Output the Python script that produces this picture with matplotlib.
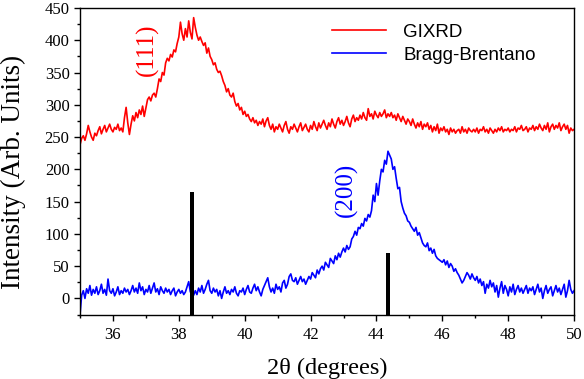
import matplotlib
matplotlib.use("Agg")
import matplotlib.pyplot as plt
from matplotlib.ticker import MultipleLocator
import numpy as np

# 2-theta grid (0.05 deg step, 35..50)
two_theta = np.linspace(35, 50, 301)

# GIXRD intensity
gixrd = [
    238, 248, 252, 245, 255, 268, 258, 250, 245, 256,
    252, 260, 266, 255, 262, 268, 258, 264, 270, 262,
    258, 265, 262, 270, 260, 264, 258, 280, 296, 272,
    254, 270, 283, 275, 288, 280, 292, 285, 298, 282,
    295, 308, 312, 306, 315, 318, 312, 325, 340, 336,
    350, 346, 365, 372, 368, 378, 374, 385, 382, 395,
    405, 428, 410, 400, 418, 405, 430, 412, 402, 435,
    420, 408, 400, 405, 398, 392, 396, 380, 388, 375,
    370, 362, 365, 355, 350, 352, 345, 336, 330, 320,
    325, 315, 312, 318, 305, 298, 302, 292, 296, 285,
    290, 282, 285, 278, 274, 280, 272, 276, 268, 274,
    270, 278, 266, 275, 280, 268, 262, 270, 258, 266,
    262, 270, 264, 258, 268, 274, 262, 256, 266, 262,
    270, 264, 258, 266, 272, 260, 265, 270, 262, 258,
    268, 262, 274, 266, 260, 272, 264, 270, 276, 268,
    262, 272, 266, 278, 270, 264, 274, 280, 270, 276,
    268, 274, 282, 272, 266, 278, 284, 274, 280, 276,
    284, 278, 288, 280, 276, 294, 282, 286, 278, 290,
    284, 280, 288, 282, 286, 292, 280, 286, 282, 288,
    280, 284, 276, 286, 280, 274, 282, 276, 270, 278,
    274, 268, 278, 270, 264, 272, 266, 274, 262, 270,
    266, 272, 262, 268, 258, 266, 260, 270, 256, 264,
    260, 266, 258, 262, 254, 264, 258, 262, 256, 260,
    262, 256, 266, 258, 262, 256, 264, 260, 258, 262,
    258, 264, 256, 262, 260, 266, 258, 262, 256, 264,
    260, 256, 262, 258, 264, 260, 266, 258, 262, 260,
    264, 258, 262, 260, 266, 258, 264, 262, 268, 260,
    262, 266, 258, 264, 262, 268, 260, 266, 262, 270,
    264, 260, 268, 262, 272, 258, 266, 270, 262, 268,
    264, 272, 260, 266, 270, 262, 268, 256, 264, 260,
    262,
]

# Bragg-Brentano intensity
bragg = [
    -25, 5, 12, 0, 15, 8, 20, 5, 14, 8,
    18, 6, 12, 22, 8, 14, 5, 30, 12, 8,
    15, 4, 10, 18, 6, 12, 8, 16, 10, 14,
    6, 12, 20, 10, 16, 8, 24, 12, 18, 6,
    14, 10, 20, 8, 16, 24, 10, 15, 6, 18,
    12, 8, 16, 10, 14, 6, 12, 16, 4, 10,
    14, 8, 12, 6, 10, 18, 26, 10, 14, 5,
    12, 6, 16, 10, 20, 8, 14, 22, 28, 12,
    8, 16, 10, 14, 4, 12, 0, 10, 18, 8,
    12, 6, 14, 10, 18, 8, 4, 12, 10, 16,
    6, 14, 20, 10, 8, 16, 22, 12, 18, 10,
    4, 14, 20, 26, 32, 18, 10, 16, 8, 22,
    14, 18, 10, 24, 28, 16, 22, 34, 38, 28,
    26, 32, 22, 28, 34, 26, 30, 22, 28, 34,
    30, 40, 36, 32, 44, 38, 46, 50, 44, 56,
    52, 48, 62, 58, 54, 66, 60, 70, 64, 72,
    78, 72, 82, 76, 80, 92, 96, 104, 98, 110,
    108, 116, 112, 124, 120, 130, 126, 136, 160, 150,
    178, 160, 182, 200, 196, 214, 208, 228, 222, 216,
    200, 204, 186, 170, 172, 150, 140, 132, 128, 120,
    118, 112, 108, 104, 110, 98, 102, 94, 86, 82,
    80, 86, 74, 78, 70, 76, 66, 62, 60, 58,
    56, 60, 52, 58, 48, 54, 50, 42, 46, 40,
    36, 30, 24, 28, 34, 40, 36, 30, 38, 32,
    28, 34, 24, 30, 20, 26, 8, 22, 16, 28,
    18, 24, 10, 20, 2, 16, 26, 8, 20, 14,
    4, 18, 10, 22, 6, 14, 20, 10, 16, 8,
    14, 20, 8, 16, 12, 18, 6, 14, 22, 10,
    16, 0, 12, 20, 8, 14, 18, 4, 12, 20,
    10, 16, 6, 14, 22, 2, 12, 28, 14, 8,
    12,
]

# reference stick positions and heights
ref_pos = [38.40, 44.35]
ref_height = [165, 70]
y_bottom = -25

fig = plt.figure(figsize=(5.84, 3.79), dpi=100)
ax = fig.add_axes([0.137, 0.170, 0.846, 0.809])

ax.plot(two_theta, gixrd, color="#ff0000", lw=1.2, label="GIXRD")
ax.plot(two_theta, bragg, color="#0000ff", lw=1.2, label="Bragg-Brentano")
ax.bar(ref_pos, [h - y_bottom for h in ref_height], bottom=y_bottom,
       width=0.14, color="black", zorder=3)

ax.set_xlim(35, 50)
ax.set_ylim(y_bottom, 450)
ax.xaxis.set_major_locator(MultipleLocator(2))
ax.xaxis.set_minor_locator(MultipleLocator(1))
ax.yaxis.set_major_locator(MultipleLocator(50))
ax.yaxis.set_minor_locator(MultipleLocator(25))
ax.tick_params(which="both", direction="out", top=False, right=False)
ax.tick_params(which="major", length=4, width=1, labelsize=12)
ax.tick_params(axis="x", which="major", pad=5)
ax.tick_params(which="minor", length=2.5, width=1)
for lab in ax.get_xticklabels() + ax.get_yticklabels():
    lab.set_fontfamily("Liberation Serif")
for s in ax.spines.values():
    s.set_linewidth(1.0)

ax.set_xlabel("2θ (degrees)", fontsize=17.5, family="Liberation Serif")
ax.xaxis.set_label_coords(0.5, -0.14)
ax.set_ylabel("Intensity (Arb. Units)", fontsize=19.5, family="Liberation Serif")
ax.yaxis.set_label_coords(-0.11, 0.465)

ax.text(37.03, 386, "(111)", color="#ff0000", rotation=90, fontsize=18,
        family="Liberation Serif", ha="center", va="center")
ax.text(43.08, 168, "(200)", color="#0000ff", rotation=90, fontsize=18,
        family="Liberation Serif", ha="center", va="center")

ax.legend(loc="upper left", bbox_to_anchor=(0.51, 0.948), frameon=False,
          borderpad=0, borderaxespad=0, handlelength=2.9, handletextpad=0.9,
          labelspacing=0.3, prop={"family": "Liberation Sans", "size": 13.5})

fig.savefig("out.png", dpi=100)
